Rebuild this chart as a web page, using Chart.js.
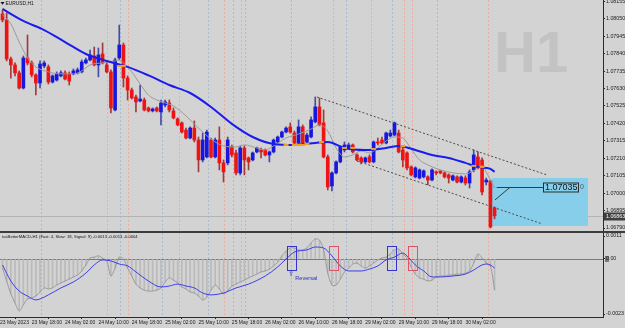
<!DOCTYPE html>
<html>
<head>
<meta charset="utf-8">
<script src="https://cdn.jsdelivr.net/npm/chart.js@4.4.1/dist/chart.umd.min.js"></script>
<style>
html,body{margin:0;padding:0;background:#d3d3d3;width:625px;height:328px;overflow:hidden;}
#wrap{position:relative;width:625px;height:328px;background:#d3d3d3;}
canvas{display:block;}
#p1{position:absolute;left:0;top:0;width:625px;height:231px;}
#sep{position:absolute;left:0;top:231px;width:625px;height:2px;background:#3c3c3c;}
#p2{position:absolute;left:0;top:233px;width:625px;height:95px;}
</style>
</head>
<body>
<div id="wrap">
  <div id="p1"><canvas id="c1" width="625" height="231"></canvas></div>
  <div id="sep"></div>
  <div id="p2"><canvas id="c2" width="625" height="95"></canvas></div>
</div>
<script>
// ---------------- DATA (EURUSD H1, bar 0 = 23 May 11:00) ----------------
const opens = [
1.08079,1.08043,1.07808,1.07772,1.07724,1.07633,1.07814,1.07784,1.07712,1.07663,
1.07766,1.07760,1.07669,1.07681,1.07706,1.07724,1.07718,1.07718,1.07724,1.07730,
1.07784,1.07802,1.07826,1.07772,1.07838,1.07772,1.07730,1.07501,1.07814,1.07892,
1.07693,1.07621,1.07579,1.07555,1.07561,1.07513,1.07495,1.07513,1.07489,1.07531,
1.07543,1.07495,1.07447,1.07423,1.07380,1.07332,1.07392,1.07320,1.07200,1.07218,
1.07320,1.07218,1.07320,1.07182,1.07182,1.07278,1.07242,1.07122,1.07272,1.07212,
1.07200,1.07248,1.07260,1.07260,1.07230,1.07248,1.07308,1.07338,1.07368,1.07399,
1.07362,1.07302,1.07399,1.07308,1.07338,1.07429,1.07519,1.07423,1.07218,1.07043,
1.07122,1.07188,1.07260,1.07272,1.07290,1.07230,1.07212,1.07188,1.07218,1.07188,
1.07308,1.07320,1.07302,1.07344,1.07350,1.07362,1.07260,1.07242,1.07158,1.07098,
1.07091,1.07098,1.07098,1.07079,1.07128,1.07134,1.07122,1.07110,1.07079,1.07098,
1.07067,1.07091,1.07061,1.07140,1.07218,1.07200,1.07067,1.07073,1.06911
];
const highs = [
1.08103,1.08085,1.07820,1.07784,1.07736,1.07826,1.07952,1.07796,1.07718,1.07796,
1.07796,1.07772,1.07712,1.07730,1.07736,1.07736,1.07730,1.07748,1.07754,1.07802,
1.07814,1.07862,1.07880,1.07874,1.07904,1.07790,1.07742,1.07814,1.08012,1.07904,
1.07706,1.07633,1.07591,1.07651,1.07573,1.07519,1.07513,1.07519,1.07561,1.07561,
1.07561,1.07513,1.07453,1.07429,1.07392,1.07399,1.07435,1.07338,1.07362,1.07380,
1.07332,1.07332,1.07399,1.07200,1.07338,1.07290,1.07260,1.07284,1.07284,1.07218,
1.07248,1.07278,1.07272,1.07266,1.07254,1.07326,1.07344,1.07374,1.07399,1.07423,
1.07374,1.07441,1.07411,1.07362,1.07459,1.07579,1.07573,1.07501,1.07230,1.07128,
1.07194,1.07284,1.07308,1.07302,1.07296,1.07236,1.07218,1.07218,1.07230,1.07314,
1.07332,1.07338,1.07368,1.07380,1.07429,1.07380,1.07278,1.07248,1.07164,1.07158,
1.07146,1.07140,1.07104,1.07146,1.07134,1.07134,1.07128,1.07116,1.07110,1.07104,
1.07104,1.07104,1.07140,1.07260,1.07248,1.07212,1.07091,1.07079,1.06917
];
const lows = [
1.08031,1.07796,1.07693,1.07706,1.07627,1.07627,1.07772,1.07700,1.07591,1.07633,
1.07754,1.07657,1.07663,1.07675,1.07700,1.07681,1.07651,1.07712,1.07718,1.07724,
1.07778,1.07796,1.07766,1.07700,1.07778,1.07724,1.07483,1.07495,1.07802,1.07639,
1.07561,1.07567,1.07489,1.07549,1.07495,1.07489,1.07489,1.07489,1.07411,1.07519,
1.07489,1.07447,1.07405,1.07362,1.07326,1.07326,1.07308,1.07128,1.07188,1.07212,
1.07212,1.07212,1.07140,1.07067,1.07170,1.07218,1.07110,1.07110,1.07110,1.07140,
1.07194,1.07242,1.07212,1.07224,1.07188,1.07242,1.07302,1.07332,1.07362,1.07362,
1.07296,1.07290,1.07290,1.07302,1.07332,1.07423,1.07405,1.07212,1.07019,1.07013,
1.07116,1.07182,1.07248,1.07266,1.07242,1.07194,1.07176,1.07182,1.07182,1.07182,
1.07290,1.07296,1.07296,1.07338,1.07344,1.07242,1.07158,1.07140,1.07104,1.07091,
1.07085,1.07091,1.07049,1.07073,1.07110,1.07116,1.07091,1.07061,1.07073,1.07061,
1.07061,1.07049,1.07031,1.07128,1.07146,1.06989,1.07049,1.06790,1.06845
];
const closes = [
1.08043,1.07808,1.07772,1.07724,1.07633,1.07814,1.07784,1.07712,1.07663,1.07778,
1.07784,1.07669,1.07706,1.07718,1.07724,1.07687,1.07675,1.07736,1.07742,1.07790,
1.07802,1.07832,1.07772,1.07832,1.07784,1.07730,1.07513,1.07802,1.07892,1.07693,
1.07621,1.07573,1.07549,1.07567,1.07501,1.07495,1.07507,1.07495,1.07543,1.07549,
1.07501,1.07453,1.07411,1.07368,1.07332,1.07392,1.07320,1.07200,1.07320,1.07368,
1.07218,1.07320,1.07182,1.07128,1.07320,1.07230,1.07122,1.07272,1.07200,1.07188,
1.07242,1.07272,1.07248,1.07230,1.07248,1.07320,1.07338,1.07368,1.07392,1.07368,
1.07302,1.07399,1.07302,1.07350,1.07441,1.07519,1.07411,1.07218,1.07037,1.07122,
1.07188,1.07278,1.07290,1.07290,1.07248,1.07200,1.07188,1.07212,1.07188,1.07308,
1.07302,1.07302,1.07362,1.07362,1.07423,1.07248,1.07200,1.07152,1.07110,1.07152,
1.07140,1.07134,1.07079,1.07140,1.07122,1.07122,1.07098,1.07091,1.07104,1.07067,
1.07098,1.07061,1.07128,1.07230,1.07152,1.07007,1.07079,1.06796,1.06863
];

// slow (blue) and fast (gray) moving averages, read at sample bars
const maSlowIdx = [0,5,10,15,20,25,30,35,40,45,50,55,60,65,70,75,78,82,87,92,95,99,103,107,111,114,116,117,118];
const maSlowVal = [1.08109,1.08037,1.07982,1.07910,1.07838,1.07796,1.07760,1.07709,1.07651,1.07603,
  1.07519,1.07417,1.07338,1.07296,1.07290,1.07302,1.07308,1.07272,1.07260,1.07272,
  1.07284,1.07260,1.07230,1.07212,1.07182,1.07158,1.07152,1.07146,1.07128];
const maFastIdx = [0,2,4,6,8,11,14,17,19,21,24,27,28,29,31,33,35,37,39,41,44,47,50,53,56,58,61,63,65,68,
  71,74,76,78,80,82,84,86,88,90,92,94,96,98,100,102,105,108,111,113,115,116,117,118];
const maFastVal = [1.08073,1.08019,1.07910,1.07814,1.07760,1.07730,1.07718,1.07718,1.07736,1.07772,
  1.07784,1.07796,1.07802,1.07784,1.07730,1.07657,1.07591,1.07561,1.07543,1.07525,
  1.07465,1.07392,1.07326,1.07284,1.07278,1.07290,1.07272,1.07260,1.07284,1.07332,
  1.07356,1.07386,1.07411,1.07374,1.07272,1.07218,1.07230,1.07254,1.07242,1.07272,
  1.07314,1.07338,1.07332,1.07266,1.07200,1.07170,1.07140,1.07122,1.07116,1.07134,
  1.07164,1.07128,1.07079,1.07031];
const orangeIdx = [28,29,68,70,71,72,73,76.5,82,84,89,96,113,115];
const orangeVal = [1.07766,1.07766,1.07290,1.07290,1.07290,1.07290,1.07296,1.07308,1.07272,1.07272,1.07266,1.07284,1.07164,1.07158];

// MACD (Fast 4, Slow 18, Signal 9)
const macdMain = [
-0.00038,-0.00092,-0.00146,-0.00184,-0.00217,-0.00192,-0.00167,-0.00163,-0.00155,-0.00138,
-0.00121,-0.00125,-0.00121,-0.00109,-0.00100,-0.00092,-0.00084,-0.00075,-0.00067,-0.00050,
-0.00025,0.00004,0.00008,0.00013,0.00004,-0.00008,-0.00071,-0.00038,0.00008,0.00000,
-0.00038,-0.00071,-0.00105,-0.00121,-0.00130,-0.00134,-0.00134,-0.00130,-0.00121,-0.00096,
-0.00079,-0.00088,-0.00100,-0.00117,-0.00125,-0.00138,-0.00142,-0.00155,-0.00171,-0.00159,
-0.00130,-0.00109,-0.00125,-0.00146,-0.00134,-0.00113,-0.00105,-0.00096,-0.00088,-0.00079,
-0.00071,-0.00063,-0.00054,-0.00050,-0.00042,-0.00029,-0.00013,0.00013,0.00033,0.00046,
0.00046,0.00038,0.00038,0.00046,0.00067,0.00084,0.00079,0.00038,-0.00059,-0.00109,
-0.00109,-0.00084,-0.00054,-0.00038,-0.00021,-0.00017,-0.00029,-0.00038,-0.00029,-0.00017,
-0.00004,0.00004,0.00008,0.00021,0.00038,0.00042,0.00021,0.00004,-0.00033,-0.00063,
-0.00079,-0.00084,-0.00092,-0.00088,-0.00075,-0.00071,-0.00071,-0.00067,-0.00067,-0.00063,
-0.00063,-0.00059,-0.00050,-0.00017,0.00021,0.00004,-0.00017,-0.00029,-0.00130
];
const signalIdx = [0,2,4,6,8,9,11,14,17,20,22,24,26,28,30,32,35,38,40,42,44,46,48,50,53,56,59,63,66,68,
  70,73,75,77,79,81,83,86,88,90,92,94,96,97,99,101,103,105,108,111,113,115,116,117,118];
const signalVal = [-0.00025,-0.00092,-0.00134,-0.00155,-0.00171,-0.00167,-0.00150,-0.00121,-0.00096,-0.00059,
  -0.00025,-0.00004,-0.00008,-0.00021,-0.00029,-0.00054,-0.00092,-0.00117,-0.00113,-0.00105,
  -0.00113,-0.00121,-0.00142,-0.00150,-0.00142,-0.00121,-0.00105,-0.00071,-0.00033,0.00000,
  0.00029,0.00038,0.00050,0.00046,0.00013,-0.00029,-0.00050,-0.00050,-0.00042,-0.00029,
  -0.00004,0.00008,0.00025,0.00013,-0.00025,-0.00050,-0.00075,-0.00075,-0.00071,-0.00063,
  -0.00046,-0.00025,-0.00021,-0.00025,-0.00038];

// axis ticks
const priceTicks = [1.08155,1.08050,1.07945,1.07840,1.07735,1.07630,1.07525,1.07420,1.07315,1.07210,1.07105,1.07000,1.06895,1.06790];
const macdTicks = [0.00096, 0, -0.0023];
const macdTickLabels = ['0.0011', '0.00', '-0.0023'];
const xTickIdx = [-0.6,7,15,23,31,39,47,55,63,71,79,87,95,103,111];
const xTickLabels = ['23 May 2023','23 May 18:00','24 May 02:00','24 May 10:00','24 May 18:00','25 May 02:00',
  '25 May 10:00','25 May 18:00','26 May 02:00','26 May 10:00','26 May 18:00','29 May 02:00','29 May 10:00',
  '29 May 18:00','30 May 02:00'];

// chart objects
const vBlue = [9.2,28.2,38.2,49.3,55.3,58.2,69.2,82.4,93.4,104.2];
const vSalmon = [25.1,30.1,42.3,53.1,57.2,79.3,88.4,96.3,98.2,116.4];
const chUpperIdx = [75.4,130.6], chUpperVal = [1.07579,1.07109];
const chLowerIdx = [85.0,129.4], chLowerVal = [1.07194,1.06815];
const zoneIdx = [117.4,140.4], zonePrice = [1.07091,1.06803];
const levelPrice = 1.07035, levelIdx = [118.5,129.6];
const leaderIdx = [118.1,121.7], leaderVal = [1.06959,1.07035];
const bidPrice = 1.06863;
const boxIdx = [68.3,78.4,92.3,97.3];
const boxDir = ['up','down','up','down'];
const boxVal = [0.00056,-0.00044];
const reversalIdx = 69;

// ---------------- RENDER ----------------
const FONT = '"Liberation Sans", Arial, sans-serif';
const xMin = -0.6, xMax = 144.0;
const yMax = 1.08163, yMin = 1.06772;
const macdMax = 0.0010868, macdMin = -0.0024244;
const bars = opens.map((_, i) => i);
const bull = bars.map(i => closes[i] >= opens[i]);

function noPad(s) { s.paddingTop = 0; s.paddingBottom = 0; s.paddingLeft = 0; s.paddingRight = 0; }

function drawVLines(ctx, xs, top, bottom) {
  ctx.save();
  ctx.lineWidth = 1;
  ctx.setLineDash([2, 2]);
  [[vBlue, '#a9bbd4'], [vSalmon, '#ecae9b']].forEach(([arr, col]) => {
    ctx.strokeStyle = col;
    arr.forEach(v => {
      const px = Math.round(xs.getPixelForValue(v)) + 0.5;
      ctx.beginPath(); ctx.moveTo(px, top); ctx.lineTo(px, bottom); ctx.stroke();
    });
  });
  ctx.restore();
}

const mainDecor = {
  id: 'mainDecor',
  beforeDatasetsDraw(chart) {
    const {ctx, chartArea: a, scales: {x, y}} = chart;
    ctx.save();
    ctx.beginPath(); ctx.rect(a.left, a.top, a.right - a.left, a.bottom - a.top); ctx.clip();
    ctx.fillStyle = '#c3c3c3';
    ctx.font = 'bold 58px ' + FONT;
    ctx.textAlign = 'left'; ctx.textBaseline = 'alphabetic';
    ctx.fillText('H1', 494, 72);
    drawVLines(ctx, x, a.top, a.bottom);
    const by = Math.round(y.getPixelForValue(bidPrice)) + 0.5;
    ctx.strokeStyle = '#b3b3b3'; ctx.lineWidth = 1;
    ctx.beginPath(); ctx.moveTo(a.left, by); ctx.lineTo(a.right, by); ctx.stroke();
    const zx0 = Math.round(x.getPixelForValue(zoneIdx[0])), zx1 = Math.round(x.getPixelForValue(zoneIdx[1]));
    const zy0 = Math.round(y.getPixelForValue(zonePrice[0])), zy1 = Math.round(y.getPixelForValue(zonePrice[1]));
    ctx.fillStyle = '#87ceeb';
    ctx.fillRect(zx0, zy0, zx1 - zx0, zy1 - zy0);
    ctx.restore();
  },
  afterDatasetsDraw(chart) {
    const {ctx, chartArea: a, scales: {x, y}} = chart;
    ctx.save();
    ctx.beginPath(); ctx.rect(a.left, a.top, a.right - a.left, a.bottom - a.top); ctx.clip();
    ctx.strokeStyle = '#4a4a4a'; ctx.lineWidth = 1; ctx.setLineDash([2, 2]);
    [[chUpperIdx, chUpperVal], [chLowerIdx, chLowerVal]].forEach(([xi, yv]) => {
      ctx.beginPath();
      ctx.moveTo(x.getPixelForValue(xi[0]), y.getPixelForValue(yv[0]));
      ctx.lineTo(x.getPixelForValue(xi[1]), y.getPixelForValue(yv[1]));
      ctx.stroke();
    });
    ctx.setLineDash([]);
    ctx.strokeStyle = '#3a3a3a';
    const ly = Math.round(y.getPixelForValue(levelPrice)) + 0.5;
    ctx.beginPath();
    ctx.moveTo(x.getPixelForValue(levelIdx[0]), ly); ctx.lineTo(x.getPixelForValue(levelIdx[1]), ly);
    ctx.moveTo(x.getPixelForValue(leaderIdx[0]), y.getPixelForValue(leaderVal[0]));
    ctx.lineTo(x.getPixelForValue(leaderIdx[1]), y.getPixelForValue(leaderVal[1]));
    ctx.stroke();
    ctx.font = '9px ' + FONT;
    const txt = levelPrice.toFixed(5);
    const tw = ctx.measureText(txt).width;
    const bx = Math.round(x.getPixelForValue(levelIdx[1])) + 0.5;
    ctx.strokeStyle = '#2a2a2a';
    ctx.strokeRect(bx, ly - 4.5, Math.round(tw) + 2, 9);
    ctx.fillStyle = '#141414'; ctx.textBaseline = 'middle'; ctx.textAlign = 'left';
    ctx.fillText(txt, bx + 1.5, ly + 0.5);
    ctx.font = '7px ' + FONT; ctx.fillStyle = '#555';
    ctx.fillText('0', bx + tw + 4, ly);
    ctx.restore();
  },
  afterDraw(chart) {
    const {ctx, chartArea: a, scales: {y}} = chart;
    ctx.save();
    const by = Math.round(y.getPixelForValue(bidPrice));
    ctx.fillStyle = '#3e3e3e';
    ctx.fillRect(a.right + 1, by - 3.5, 21, 8);
    ctx.fillStyle = '#ffffff';
    ctx.font = '5.3px ' + FONT; ctx.textBaseline = 'middle'; ctx.textAlign = 'left';
    ctx.fillText(bidPrice.toFixed(5), a.right + 3, by + 0.5);
    ctx.fillStyle = '#111';
    ctx.beginPath(); ctx.moveTo(0.5, 2); ctx.lineTo(4.5, 2); ctx.lineTo(2.5, 4.8); ctx.closePath(); ctx.fill();
    ctx.font = '4.9px ' + FONT;
    ctx.fillText('EURUSD,H1', 5.5, 3.5);
    ctx.restore();
  }
};

const axisStyle = {
  grid: {drawOnChartArea: false, drawTicks: true, tickLength: 2, color: '#2b2b2b', lineWidth: 1},
  border: {display: true, color: '#2b2b2b', width: 1}
};

new Chart(document.getElementById('c1'), {
  type: 'bar',
  data: {
    datasets: [
      {type: 'line', label: 'cross', data: orangeIdx.map((v, i) => ({x: v, y: orangeVal[i]})),
       showLine: false, pointStyle: 'line', pointRadius: 2.5, pointBorderWidth: 2,
       pointBorderColor: '#f0a020', borderColor: '#f0a020', order: 0},
      {type: 'line', label: 'MA slow', data: maSlowIdx.map((v, i) => ({x: v, y: maSlowVal[i]})),
       borderColor: '#1b1bee', borderWidth: 2, pointRadius: 0, cubicInterpolationMode: 'monotone', order: 1},
      {type: 'line', label: 'MA fast', data: maFastIdx.map((v, i) => ({x: v, y: maFastVal[i]})),
       borderColor: '#9a9a9a', borderWidth: 1, pointRadius: 0, cubicInterpolationMode: 'monotone', order: 2},
      {label: 'body', data: bars.map(i => ({x: i, y: [opens[i], closes[i]]})),
       backgroundColor: bull.map(b => b ? '#1717e0' : '#ee1414'), borderWidth: 0,
       barThickness: 3, grouped: false, minBarLength: 1, order: 3},
      {label: 'wick', data: bars.map(i => ({x: i, y: [lows[i], highs[i]]})),
       backgroundColor: bull.map(b => b ? '#4848a8' : '#a23a3a'), borderWidth: 0,
       barThickness: 1, grouped: false, order: 4}
    ]
  },
  options: {
    responsive: false, animation: false, events: [],
    layout: {padding: 0, autoPadding: false},
    plugins: {legend: {display: false}, tooltip: {enabled: false}},
    scales: {
      x: {type: 'linear', min: xMin, max: xMax, display: false, offset: false, grid: {offset: false}},
      y: Object.assign({
        type: 'linear', position: 'right', min: yMin, max: yMax,
        afterBuildTicks: s => { s.ticks = priceTicks.map(v => ({value: v})); },
        afterFit: s => { s.width = 22; noPad(s); },
        ticks: {callback: v => Number(v).toFixed(5), font: {size: 5.3, family: FONT}, color: '#1a1a1a', padding: 1, autoSkip: false}
      }, axisStyle)
    }
  },
  plugins: [mainDecor]
});

const macdDecor = {
  id: 'macdDecor',
  beforeDraw(chart) {
    const {ctx, chartArea: a, scales: {y}} = chart;
    const zy = Math.round(y.getPixelForValue(0));
    ctx.save(); ctx.fillStyle = '#7a7a7a'; ctx.fillRect(a.right + 2, zy - 3, 4, 6); ctx.restore();
  },
  beforeDatasetsDraw(chart) {
    const {ctx, chartArea: a, scales: {x, y}} = chart;
    ctx.save();
    drawVLines(ctx, x, a.top, a.bottom);
    const zy = Math.round(y.getPixelForValue(0)) + 0.5;
    ctx.strokeStyle = '#7b7b7b'; ctx.lineWidth = 1;
    ctx.beginPath(); ctx.moveTo(a.left, zy); ctx.lineTo(a.right, zy); ctx.stroke();
    ctx.restore();
  },
  afterDatasetsDraw(chart) {
    const {ctx, scales: {x, y}} = chart;
    ctx.save();
    ctx.lineWidth = 1;
    boxIdx.forEach((v, i) => {
      ctx.strokeStyle = boxDir[i] === 'up' ? '#3434cc' : '#d9546c';
      const x0 = Math.round(x.getPixelForValue(v)) + 0.5, x1 = Math.round(x.getPixelForValue(v + 2)) + 0.5;
      const y0 = Math.round(y.getPixelForValue(boxVal[0])) + 0.5, y1 = Math.round(y.getPixelForValue(boxVal[1])) + 0.5;
      ctx.strokeRect(x0, y0, x1 - x0, y1 - y0);
    });
    const rx = x.getPixelForValue(reversalIdx);
    const ry = y.getPixelForValue(boxVal[1]);
    ctx.fillStyle = '#2f2fc4';
    ctx.font = '7px "DejaVu Sans", sans-serif';
    ctx.textAlign = 'center'; ctx.textBaseline = 'top';
    ctx.fillText('\u21E7', rx + 1, ry + 1);
    ctx.font = '5.6px ' + FONT; ctx.textAlign = 'left'; ctx.textBaseline = 'middle';
    ctx.fillText('Reversal', rx + 5, ry + 9);
    ctx.restore();
  },
  afterDraw(chart) {
    const {ctx} = chart;
    ctx.save();
    ctx.fillStyle = '#151515';
    ctx.font = '4.2px ' + FONT; ctx.textAlign = 'left'; ctx.textBaseline = 'middle';
    ctx.fillText('tasBetterMACD-H1 (Fast: 4, Slow: 18, Signal: 9) -0.0013 -0.0013 -0.0004', 2, 4);
    ctx.restore();
  }
};

new Chart(document.getElementById('c2'), {
  type: 'bar',
  data: {
    datasets: [
      {type: 'line', label: 'Signal', data: signalIdx.map((v, i) => ({x: v, y: signalVal[i]})),
       borderColor: '#3c3ce8', borderWidth: 1, pointRadius: 0, cubicInterpolationMode: 'monotone', order: 0},
      {type: 'line', label: 'MACD', data: bars.map(i => ({x: i, y: macdMain[i]})),
       borderColor: '#9a9a9a', borderWidth: 1, pointRadius: 0, tension: 0.3, order: 1},
      {label: 'Hist', data: bars.map(i => ({x: i, y: macdMain[i]})),
       backgroundColor: '#bababa', borderWidth: 0, barThickness: 1, grouped: false, order: 2}
    ]
  },
  options: {
    responsive: false, animation: false, events: [],
    layout: {padding: 0, autoPadding: false},
    plugins: {legend: {display: false}, tooltip: {enabled: false}},
    scales: {
      x: Object.assign({
        type: 'linear', position: 'bottom', min: xMin, max: xMax, offset: false,
        afterBuildTicks: s => { s.ticks = xTickIdx.map(v => ({value: v})); },
        afterFit: s => { s.height = 11; noPad(s); },
        ticks: {callback: (v, i) => xTickLabels[i], align: 'start', font: {size: 5, family: FONT},
                color: '#1a1a1a', padding: 1, maxRotation: 0, minRotation: 0, autoSkip: false}
      }, axisStyle),
      y: Object.assign({
        type: 'linear', position: 'right', min: macdMin, max: macdMax,
        afterBuildTicks: s => { s.ticks = macdTicks.map(v => ({value: v})); },
        afterFit: s => { s.width = 22; noPad(s); },
        ticks: {callback: (v, i) => macdTickLabels[i], font: {size: 5.3, family: FONT}, color: '#1a1a1a', padding: 1, autoSkip: false}
      }, axisStyle)
    }
  },
  plugins: [macdDecor]
});
</script>
</body>
</html>
